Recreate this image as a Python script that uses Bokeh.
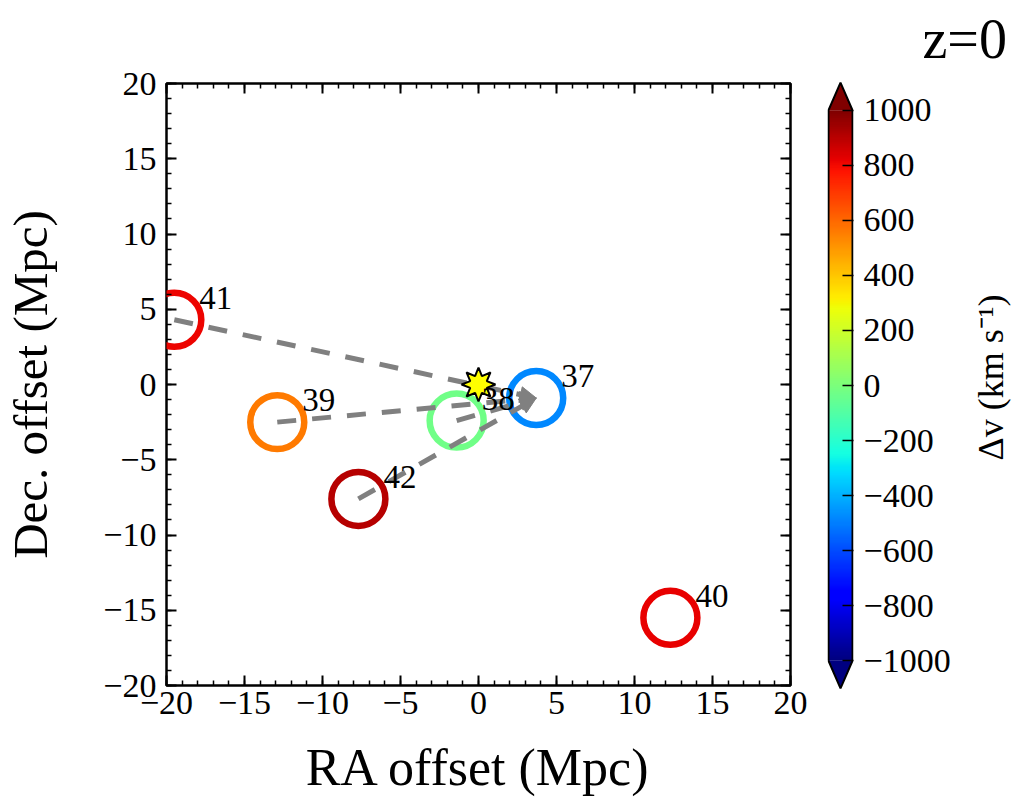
import numpy as np
from bokeh.plotting import figure
from bokeh.models import (Range1d, LinearAxis, FixedTicker, ColumnDataSource, Arrow,
                          NormalHead, LinearColorMapper)
from bokeh.layouts import row, column
from bokeh.transform import linear_cmap
from bokeh.core.properties import value
from bokeh.embed import file_html
from bokeh.resources import INLINE

# ---------------- data ----------------
names = ["37", "38", "39", "40", "41", "42"]
ra = [3.7, -1.4, -12.9, 12.3, -19.5, -7.7]
dec = [-0.9, -2.4, -2.5, -15.5, 4.3, -7.6]
dv = [-480, -30, 560, 820, 810, 900]
arrow_from = ["41", "39", "38", "42"]
arrow_to = "37"
star_ra = [0.0]
star_dec = [0.0]
xticks = [-20, -15, -10, -5, 0, 5, 10, 15, 20]
yticks = [-20, -15, -10, -5, 0, 5, 10, 15, 20]
cbar_ticks = [-1000, -800, -600, -400, -200, 0, 200, 400, 600, 800, 1000]
title_text = "z=0"
cbar_label = "\u0394v (km s\u207b\u00b9)"

FONT = "Liberation Serif"

# ---------------- jet colormap ----------------
def jet_palette(n=256):
    f = np.linspace(0, 1, n)
    def seg(pts):
        return np.interp(f, [q[0] for q in pts], [q[1] for q in pts])
    r = seg([(0, 0), (0.35, 0), (0.66, 1), (0.89, 1), (1, 0.5)])
    g = seg([(0, 0), (0.125, 0), (0.375, 1), (0.64, 1), (0.91, 0), (1, 0)])
    b = seg([(0, 0.5), (0.11, 1), (0.34, 1), (0.65, 0), (1, 0)])
    return ["#%02x%02x%02x" % (int(round(a * 255)), int(round(c * 255)), int(round(d * 255)))
            for a, c, d in zip(r, g, b)]

JET = jet_palette()
VMIN, VMAX = -1000, 1000

def blank_fig(w, h):
    f = figure(width=w, height=h, x_range=Range1d(0, w), y_range=Range1d(0, h),
               output_backend="svg", toolbar_location=None, x_axis_location=None,
               y_axis_location=None, min_border=0)
    f.outline_line_color = None
    f.grid.visible = False
    f.background_fill_color = "white"
    f.border_fill_color = "white"
    return f

# ---------------- main figure ----------------
W, H = 815, 805
BL, BR, BT, BB = 163, 25, 83, 120
p = figure(width=W, height=H, x_range=Range1d(-20, 20), y_range=Range1d(-20, 20),
           output_backend="svg", toolbar_location=None,
           min_border_left=BL, min_border_right=BR, min_border_top=BT, min_border_bottom=BB)
p.grid.visible = False
p.outline_line_color = "black"
p.outline_line_width = 2.5
p.background_fill_color = "white"
p.border_fill_color = "white"

minor = list(range(-20, 21))

def style_axis(ax, ticks, show_labels=True):
    ax.ticker = FixedTicker(ticks=ticks, minor_ticks=minor)
    ax.axis_line_color = None
    ax.major_tick_in = 10
    ax.major_tick_out = 0
    ax.minor_tick_in = 5
    ax.minor_tick_out = 0
    ax.major_tick_line_width = 2
    ax.minor_tick_line_width = 1.5
    ax.major_tick_line_color = "black"
    ax.minor_tick_line_color = "black"
    ax.major_label_text_font = FONT
    ax.major_label_text_font_size = "34px"
    ax.major_label_text_color = "black"
    ax.axis_label_text_font = FONT
    ax.axis_label_text_font_style = "normal"
    ax.axis_label_text_color = "black"
    if not show_labels:
        ax.major_label_overrides = {t: "" for t in ticks}

style_axis(p.xaxis[0], xticks)
style_axis(p.yaxis[0], yticks)
p.xaxis.axis_label = "RA offset (Mpc)"
p.yaxis.axis_label = "Dec. offset (Mpc)"
p.xaxis.axis_label_text_font_size = "52px"
p.yaxis.axis_label_text_font_size = "49px"
p.xaxis.major_label_standoff = 6
p.yaxis.major_label_standoff = 10
p.xaxis.axis_label_standoff = 22
p.yaxis.axis_label_standoff = 42

ax_top = LinearAxis()
style_axis(ax_top, xticks, show_labels=False)
p.add_layout(ax_top, "above")
ax_right = LinearAxis()
style_axis(ax_right, yticks, show_labels=False)
p.add_layout(ax_right, "right")

src = ColumnDataSource(dict(ra=ra, dec=dec, dv=dv, name=names))
p.scatter("ra", "dec", source=src, marker="circle", size=54, fill_color=None,
          line_color=linear_cmap("dv", JET, VMIN, VMAX), line_width=6.5)

# arrows from members towards 37
i_to = names.index(arrow_to)
asrc = ColumnDataSource(dict(
    x0=[ra[names.index(n)] for n in arrow_from],
    y0=[dec[names.index(n)] for n in arrow_from],
    x1=[ra[i_to]] * len(arrow_from),
    y1=[dec[i_to]] * len(arrow_from),
))
arrows = Arrow(end=NormalHead(size=16, fill_color="#808080", line_color="#808080", line_width=1),
               x_start="x0", y_start="y0", x_end="x1", y_end="y1", source=asrc,
               line_color="#808080", line_width=5, line_dash="19 16")
p.add_layout(arrows)

# 8-pointed star at the reference position (size in pixels -> data units)
kx = (W - BL - BR) / 40.0
ky = (H - BT - BB) / 40.0
R_out, R_in, npts = 17.0, 9.0, 8
ang = np.pi / 2 + np.arange(2 * npts) * np.pi / npts
rad = np.where(np.arange(2 * npts) % 2 == 0, R_out, R_in)
sx = [list(star_ra[0] + rad * np.cos(ang) / kx)]
sy = [list(star_dec[0] + rad * np.sin(ang) / ky)]
p.patches(sx, sy, fill_color="#ffff00", line_color="black", line_width=2, level="overlay")

p.text("ra", "dec", text="name", source=src, x_offset=25, y_offset=-22,
       text_font=value(FONT), text_font_size="33px", text_color="black",
       text_baseline="alphabetic", text_align="left", level="overlay")

# ---------------- right column: title, colorbar, colorbar label ----------------
RW = 1012 - W          # 197
TH = 76                # title strip height
LW = 52                # colorbar-label strip width
CW = RW - LW           # colorbar figure width
CH = H - TH

tfig = blank_fig(RW, TH)
tfig.text(x=[107], y=[TH - 38], text=[title_text], text_font=value(FONT),
          text_font_size="56px", text_color="black", text_baseline="alphabetic",
          text_align="left")

EXT = 100  # extension triangle height in data units
cb = figure(width=CW, height=CH, x_range=Range1d(-1 / 24, 25 / 24), y_range=Range1d(-1108, 1108),
            output_backend="svg", toolbar_location=None, x_axis_location=None,
            y_axis_location="right", min_border_left=12, min_border_right=CW - 12 - 26,
            min_border_top=80 - TH, min_border_bottom=115)
cb.outline_line_color = None
cb.grid.visible = False
cb.background_fill_color = "white"
cb.border_fill_color = "white"

mapper = LinearColorMapper(palette=JET, low=VMIN, high=VMAX)
grad = np.linspace(VMIN, VMAX, 256).reshape(256, 1)
cb.image(image=[grad], x=0, y=VMIN, dw=1, dh=VMAX - VMIN, color_mapper=mapper)
cb.patch([0, 0.5, 1], [VMAX, VMAX + EXT, VMAX], fill_color=JET[-1], line_color=None)
cb.patch([0, 0.5, 1], [VMIN, VMIN - EXT, VMIN], fill_color=JET[0], line_color=None)
cb.line([0, 0, 0.5, 1, 1, 0.5, 0], [VMIN, VMAX, VMAX + EXT, VMAX, VMIN, VMIN - EXT, VMIN],
        line_color="black", line_width=2)

cax = cb.yaxis[0]
cax.ticker = FixedTicker(ticks=cbar_ticks, minor_ticks=[])
cax.axis_line_color = None
cax.major_tick_in = 11
cax.major_tick_out = 0
cax.major_tick_line_width = 1.5
cax.major_tick_line_color = "black"
cax.major_label_standoff = 10
cax.major_label_text_font = FONT
cax.major_label_text_font_size = "34px"
cax.major_label_text_color = "black"

# label reads bottom-to-top, centred on the colour bar's middle
lfig = blank_fig(LW, CH)
lfig.text(x=[30], y=[CH - (530 - TH)], text=[cbar_label], angle=np.pi / 2,
          text_font=value(FONT), text_font_size="36px", text_color="black",
          text_baseline="middle", text_align="left")

layout = row(p, column(tfig, row(cb, lfig)))
open("out.html", "w").write(file_html(layout, INLINE))
